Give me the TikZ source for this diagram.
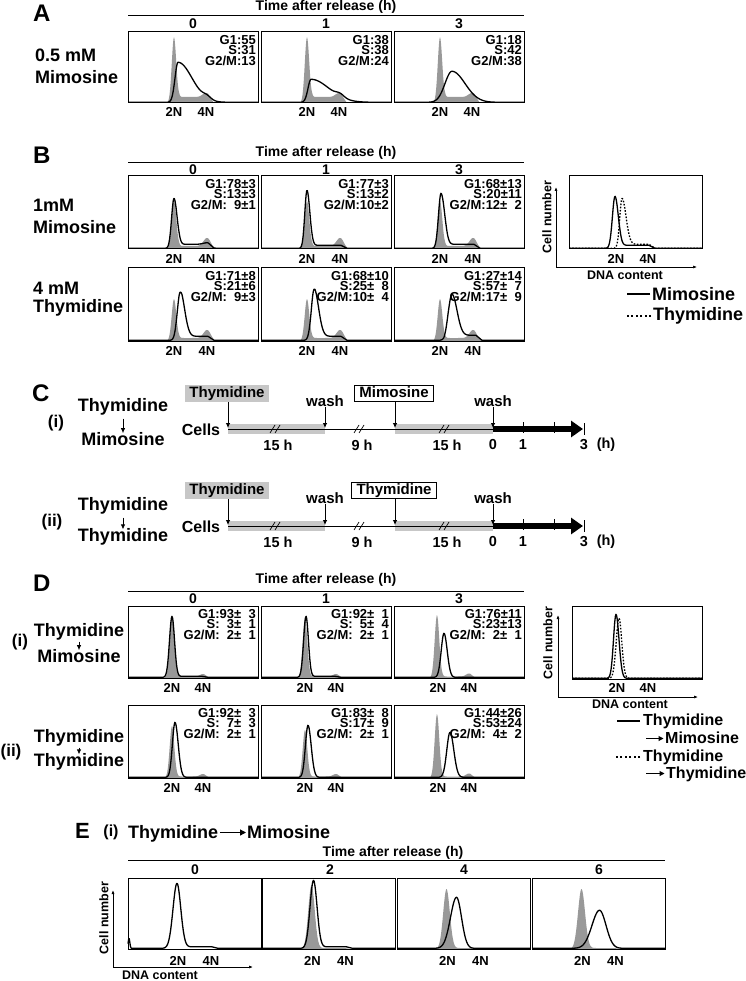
\documentclass[tikz,border=0pt]{standalone}
\usepackage{fontspec}
\setmainfont{Liberation Sans}
\usetikzlibrary{arrows.meta}

% peak shapes used for the histograms (pgfmath, \x = channel)
\newcommand{\pk}[3]{(#1)*exp(-0.5*((\x-(#2))/(#3))*((\x-(#2))/(#3)))}
\newcommand{\sk}[4]{(#1)*exp(-0.5*((\x-(#2))/((#3)+((#4)-(#3))*(\x>(#2))))*((\x-(#2))/((#3)+((#4)-(#3))*(\x>(#2)))))}
\newcommand{\pl}[3]{(#1)*min(1,max(0,(\x-(#2))/4))*min(1,max(0,((#3)-\x)/6))}
\newcommand{\zsp}{\hphantom{0}}

% asynchronous controls
\newcommand{\grayA}{\pk{66}{46}{2.2}+\pl{6}{47}{86}+\pk{4}{78}{3.5}}
\newcommand{\grayBa}{\pk{48}{46}{2.3}+\pl{3}{47}{87}+\pk{8}{79}{3.5}}
\newcommand{\grayBb}{\pk{42}{46}{2.3}+\pl{3}{47}{87}+\pk{8}{79}{3.5}}
\newcommand{\grayD}{\pk{60}{44}{2.3}+\pl{1.5}{45}{82}+\pk{2.5}{75}{3}}

\tikzset{
  histgray/.style={fill=black!40},
  histline/.style={line width=1.3pt, line join=round},
  dotline/.style={dash pattern=on 1.6pt off 1.6pt},
  boxline/.style={line width=1pt},
  rule/.style={line width=0.8pt},
  stat/.style={font=\fontsize{13}{10.5}\selectfont\bfseries, align=right, inner sep=0pt, anchor=north east},
  lbl/.style={font=\fontsize{13}{13}\selectfont\bfseries, inner sep=0pt},
  ax/.style={font=\fontsize{12.5}{13}\selectfont\bfseries, inner sep=0pt},
  hdr/.style={font=\fontsize{14}{14}\selectfont\bfseries, inner sep=0pt},
  row/.style={font=\fontsize{18}{20}\selectfont\bfseries, inner sep=0pt, anchor=west},
  lgd/.style={font=\fontsize{16}{18}\selectfont\bfseries, inner sep=0pt, anchor=west},
  roman/.style={font=\fontsize{17}{18}\selectfont\bfseries, inner sep=0pt},
  panel/.style={font=\fontsize{24}{24}\selectfont\bfseries, inner sep=0pt, anchor=west},
  sched/.style={font=\fontsize{15}{15}\selectfont\bfseries, inner sep=0pt},
  drugbox/.style={font=\fontsize{15}{15}\selectfont\bfseries, inner xsep=4pt, inner ysep=1.5pt,
    text height=11pt, text depth=2.5pt, anchor=south},
  band/.style={fill=black!22},
  axis/.style={line width=0.7pt, -{Latex[length=4pt,width=3pt]}},
  drop/.style={line width=0.8pt, -{Latex[length=5pt,width=4.5pt]}},
  into/.style={line width=1.2pt, -{Triangle[length=6pt,width=6pt]}},
}

% one flow histogram: name, left, top, width, height, control, sample, stats
\newcommand{\histbox}[8]{%
  \begin{scope}[shift={(#2,#3+#5)}, y=1pt]
    \fill[histgray] (0,0) -- plot[domain=0:#4, samples=220] (\x,{#6}) -- (#4,0) -- cycle;
    \draw[histline] plot[domain=0:#4, samples=220] (\x,{#7});
    \draw[boxline] (0,0) rectangle (#4,#5);
    \node[stat] (#1-stat) at (#4-2,#5-3) {#8};
    \node[lbl] (#1-2n) at (\twoN,-\labgap) {2N};
    \node[lbl] (#1-4n) at (\fourN,-\labgap) {4N};
  \end{scope}}

\begin{document}
\begin{tikzpicture}[x=1pt, y=-1pt]
\useasboundingbox (0,0) rectangle (745,981);

% ---------- A
\node[panel] (pa) at (33,13) {A};
\node[hdr] (ta) at (326,7) {Time after release (h)};
\draw[rule] (128,15) -- (524,15);
\foreach \c/\t in {193/0,326/1,459/3} \node[hdr] (ha\t) at (\c,24) {\t};
\node[row] (ra1) at (35,55) {0.5 mM};
\node[row] (ra2) at (35,77) {Mimosine};
\def\twoN{46}\def\fourN{78}\def\labgap{9}
\histbox{a0}{128}{32}{130}{71}{\grayA}{0.7+\sk{40}{50}{3}{14}+\pk{3}{79}{4}}{G1:55\\S:31\\G2/M:13}
\histbox{a1}{261}{32}{130}{71}{\grayA}{0.7+\sk{23}{50}{3}{18}+\pk{3}{79}{4}}{G1:38\\S:38\\G2/M:24}
\histbox{a3}{394}{32}{130}{71}{\grayA}{0.7+\sk{31}{58}{7}{13}}{G1:18\\S:42\\G2/M:38}

% ---------- B
\node[panel] (pb) at (33,155) {B};
\node[hdr] (tb) at (326,153) {Time after release (h)};
\draw[rule] (128,162) -- (524,162);
\foreach \c/\t in {193/0,326/1,459/3} \node[hdr] (hb\t) at (\c,170) {\t};
\node[row] (rb1) at (33,205) {1mM};
\node[row] (rb2) at (33,227) {Mimosine};
\node[row] (rb3) at (33,288) {4 mM};
\node[row] (rb4) at (33,308) {Thymidine};
\def\twoN{46}\def\fourN{79}\def\labgap{10}
\histbox{b10}{128}{176}{130}{73}{\grayBa}{0.7+\sk{50}{46}{2.4}{3}+\pl{4}{47}{86}+\pk{1.5}{79}{4}}{G1:78±3\\S:13±3\\G2/M:\zsp9±1}
\histbox{b11}{261}{176}{130}{73}{\grayBa}{0.7+\sk{58}{46}{2.2}{2.8}+\pl{3}{47}{86}}{G1:77±3\\S:13±2\\G2/M:10±2}
\histbox{b13}{394}{176}{130}{73}{\grayBa}{0.7+\sk{55}{47}{2.5}{3.5}+\pl{4}{48}{86}}{G1:68±13\\S:20±11\\G2/M:12±\zsp2}
\histbox{b20}{128}{268}{130}{73}{\grayBb}{0.7+\sk{46}{52}{2.8}{4.5}+\pl{4}{50}{86}}{G1:71±8\\S:21±6\\G2/M:\zsp9±3}
\histbox{b21}{261}{268}{130}{73}{\grayBb}{0.7+\sk{48}{53}{2.8}{4.5}+\pl{4}{50}{86}}{G1:68±10\\S:25±\zsp8\\G2/M:10±\zsp4}
\histbox{b23}{394}{268}{130}{73}{\grayBb}{0.7+\sk{41}{58}{3.5}{5}+\pl{5}{50}{88}}{G1:27±14\\S:57±\zsp7\\G2/M:17±\zsp9}

% B overlay
\begin{scope}[shift={(569,249)}, y=1pt]
  \draw[histline] plot[domain=0:133, samples=220] (\x,{0.7+\sk{52}{46}{2.6}{3.2}+\pl{3}{47}{86}});
  \draw[histline, dotline] plot[domain=0:133, samples=220] (\x,{0.7+\sk{46}{53}{2.3}{4}+\pl{4}{49}{86}});
  \draw[boxline] (0,0) rectangle (133,73);
  \node[lbl] (bi-2n) at (47,-10) {2N};
  \node[lbl] (bi-4n) at (79,-10) {4N};
\end{scope}
\coordinate (bo) at (556,267);
\draw[axis] (bo) -- (556,187);
\draw[axis] (bo) -- (697,267);
\node[ax, rotate=90] (bcn) at (547,217) {Cell number};
\node[ax] (bdc) at (625,275) {DNA content};
\node[row] (bl1) at (652,294) {Mimosine};
\node[row] (bl2) at (653,316) {Thymidine};
\draw[line width=1.6pt] ([xshift=-2pt]bl1.west) -- ++(-23,0);
\draw[line width=1.6pt, dash pattern=on 2pt off 2.5pt] ([xshift=-2pt]bl2.west) -- ++(-24,0);

% ---------- C
\node[panel] (pc) at (32,393) {C};
\foreach \rw/\yy/\drug in {i/429/Mimosine, ii/526/Thymidine}{
  \fill[band] (228,\yy-5) rectangle (325,\yy+5);
  \fill[band] (395,\yy-5) rectangle (493,\yy+5);
  \coordinate (ta\rw) at (228,\yy);
  \coordinate (tb\rw) at (325,\yy);
  \coordinate (tc\rw) at (395,\yy);
  \coordinate (td\rw) at (493,\yy);
  \coordinate (te\rw) at (583,\yy);
  \draw[line width=0.8pt] (ta\rw) -- (td\rw);
  \draw[line width=6pt, -{Triangle[length=12pt,width=16pt]}] (td\rw) -- (te\rw);
  \foreach \tx in {523,554} \draw[line width=0.8pt] (\tx,\yy-7) -- (\tx,\yy+4);
  \draw[line width=0.8pt] (584,\yy-6) -- (584,\yy+6);
  \foreach \bx in {276,360,445}{
    \draw[line width=0.7pt] (\bx-6,\yy+4) -- (\bx-1,\yy-4);
    \draw[line width=0.7pt] (\bx-1,\yy+4) -- (\bx+4,\yy-4);
  }
  \node[sched, font=\fontsize{16}{16}\selectfont\bfseries] (cell\rw) at (201,\yy+1) {Cells};
  \node[drugbox, band] (thy\rw) at (227,\yy-27) {Thymidine};
  \node[drugbox, draw, line width=0.8pt, fill=white, inner xsep=5pt] (dr\rw) at (394,\yy-27) {\drug};
  \node[sched, anchor=base] (wa\rw) at (325,\yy-22.5) {wash};
  \node[sched, anchor=base] (wb\rw) at (493,\yy-22.5) {wash};
  \draw[drop] (thy\rw.south -| ta\rw) -- ([yshift=1pt]ta\rw);
  \draw[drop] (wa\rw.south) -- ([yshift=1pt]tb\rw);
  \draw[drop] (dr\rw.south -| tc\rw) -- ([yshift=1pt]tc\rw);
  \draw[drop] (wb\rw.south) -- ([yshift=1pt]td\rw);
  \foreach \hx/\htxt/\hn in {278/15 h/a, 362/9 h/b, 447/15 h/c, 493/0/d, 523/1/e, 584/3/f, 606/(h)/g}
    \node[sched, font=\fontsize{14.5}{15}\selectfont\bfseries] (h\hn\rw) at (\hx,\yy+16) {\htxt};
}
\node[roman] (ci) at (56,423) {(i)};
\node[row, anchor=center] (ci1) at (123,407) {Thymidine};
\node[row, anchor=center] (ci2) at (123,439) {Mimosine};
\draw[drop] ([yshift=-3pt]ci1.south) -- ([yshift=-1pt]ci2.north);
\node[roman] (cii) at (52,522) {(ii)};
\node[row, anchor=center] (cii1) at (123,506) {Thymidine};
\node[row, anchor=center] (cii2) at (123,537) {Thymidine};
\draw[drop] ([yshift=-3pt]cii1.south) -- ([yshift=-1pt]cii2.north);

% ---------- D
\node[panel] (pd) at (33,583) {D};
\node[hdr] (td) at (326,580) {Time after release (h)};
\draw[rule] (128,591) -- (524,591);
\foreach \c/\t in {193/0,326/1,459/3} \node[hdr] (hd\t) at (\c,599) {\t};
\node[roman] (di) at (20,642) {(i)};
\node[row, anchor=center] (di1) at (79,632) {Thymidine};
\node[row, anchor=center] (di2) at (79,656) {Mimosine};
\draw[drop] ([yshift=-1pt]di1.south) -- ([yshift=-1pt]di2.north);
\node[roman] (dii) at (11,752) {(ii)};
\node[row, anchor=center] (dii1) at (79,738) {Thymidine};
\node[row, anchor=center] (dii2) at (79,762) {Thymidine};
\draw[drop] ([yshift=-1pt]dii1.south) -- ([yshift=-1pt]dii2.north);
\def\twoN{44}\def\fourN{75}\def\labgap{10}
\histbox{d10}{128}{606}{130}{72}{\grayD}{0.7+\pk{61}{44}{2.5}+\pl{1}{45}{80}}{G1:93±\zsp3\\S:\zsp3±\zsp1\\G2/M:\zsp2±\zsp1}
\histbox{d11}{261}{606}{130}{72}{\grayD}{0.7+\pk{61}{45}{2.4}+\pl{1}{45}{80}}{G1:92±\zsp1\\S:\zsp5±\zsp4\\G2/M:\zsp2±\zsp1}
\histbox{d13}{394}{606}{130}{72}{\pk{63}{43}{2.3}+\pl{1.5}{45}{82}+\pk{3}{75}{3}}{0.7+\sk{44}{50}{2.8}{3.2}}{G1:76±11\\S:23±13\\G2/M:\zsp2±\zsp1}
\histbox{d20}{128}{705}{130}{73}{\pk{52}{44}{2.3}+\pl{1.5}{45}{82}+\pk{2.5}{75}{3}}{0.7+\sk{55}{47}{2.6}{3.2}}{G1:92±\zsp3\\S:\zsp7±\zsp3\\G2/M:\zsp2±\zsp1}
\histbox{d21}{261}{705}{130}{73}{\pk{48}{44}{2.3}+\pl{1.5}{45}{82}+\pk{2.5}{75}{3}}{0.7+\sk{52}{47}{2.6}{3.2}}{G1:83±\zsp8\\S:17±\zsp9\\G2/M:\zsp2±\zsp1}
\histbox{d23}{394}{705}{130}{73}{\pk{64}{43}{2.3}+\pl{1.5}{45}{82}+\pk{3}{75}{3}}{0.7+\sk{45}{56}{3.2}{3.8}}{G1:44±26\\S:53±24\\G2/M:\zsp4±\zsp2}

% D overlay
\begin{scope}[shift={(572,679)}, y=1pt]
  \draw[histline] plot[domain=0:130, samples=220] (\x,{0.7+\sk{64}{44}{2.5}{3}});
  \draw[histline, dotline] plot[domain=0:130, samples=220] (\x,{0.7+\pk{60}{47}{2.8}});
  \draw[boxline] (0,0) rectangle (130,73);
  \node[lbl] (di-2n) at (45,-9) {2N};
  \node[lbl] (di-4n) at (76,-9) {4N};
\end{scope}
\coordinate (do) at (558,697);
\draw[axis] (do) -- (558,615);
\draw[axis] (do) -- (698,697);
\node[ax, rotate=90] (dcn) at (548,643) {Cell number};
\node[ax] (ddc) at (630,704) {DNA content};
\node[lgd] (dl1) at (643,721) {Thymidine};
\node[lgd, anchor=base west] (dl2) at (665,743.5) {Mimosine};
\node[lgd] (dl3) at (643,757) {Thymidine};
\node[lgd, anchor=base west] (dl4) at (666,778.5) {Thymidine};
\draw[into, line width=1pt, -{Triangle[length=5pt,width=5pt]}] ([xshift=-19pt,yshift=5pt]dl2.base west) -- ([xshift=-1.5pt,yshift=5pt]dl2.base west);
\draw[into, line width=1pt, -{Triangle[length=5pt,width=5pt]}] ([xshift=-20pt,yshift=5pt]dl4.base west) -- ([xshift=-1.5pt,yshift=5pt]dl4.base west);
\draw[line width=1.6pt] ([xshift=-3pt]dl1.west) -- ++(-23,0);
\draw[line width=1.6pt, dash pattern=on 2pt off 2.5pt] ([xshift=-3pt]dl3.west) -- ++(-24,0);

% ---------- E
\node[panel, font=\fontsize{22}{22}\selectfont\bfseries] (pe) at (75,831) {E};
\node[roman, font=\fontsize{16}{16}\selectfont\bfseries] (ei) at (111,832) {(i)};
\node[row, anchor=base west] (et1) at (128,838.5) {Thymidine};
\node[row, anchor=base west] (et2) at (247,838.5) {Mimosine};
\draw[into] ([xshift=1.5pt,yshift=6pt]et1.base east) -- ([xshift=-1pt,yshift=6pt]et2.base west);
\node[hdr] (te) at (393,853) {Time after release (h)};
\draw[rule] (128,860) -- (665,860);
\foreach \c/\t in {195/0,330/2,464/4,599/6} \node[hdr] (he\t) at (\c,870) {\t};
\def\twoN{50}\def\fourN{83}\def\labgap{12}
\histbox{e0}{128}{878}{133}{71}{0}{0.7+\pk{10}{1}{0.8}+\sk{65}{49}{4}{3.8}+\pl{1.5}{52}{90}}{}
\histbox{e2}{262.5}{878}{133}{71}{\pk{64}{49}{3.2}+\pl{1}{50}{88}}{0.7+\sk{68}{51}{3.5}{3.5}+\pl{1.5}{52}{90}}{}
\histbox{e4}{397.5}{878}{133}{71}{\pk{60}{49}{3.3}+\pl{1}{50}{88}}{0.7+\sk{51}{59}{6}{5}}{}
\histbox{e6}{532.5}{878}{133}{71}{\pk{60}{49}{3.5}+\pl{1}{50}{88}}{0.7+\sk{38}{67}{7.5}{6.5}}{}
\coordinate (eo) at (113,967);
\draw[axis] (eo) -- (113,890);
\draw[axis] (eo) -- (253,967);
\node[ax, rotate=90] (ecn) at (104,918) {Cell number};
\node[ax] (edc) at (160,975) {DNA content};
\end{tikzpicture}
\end{document}
